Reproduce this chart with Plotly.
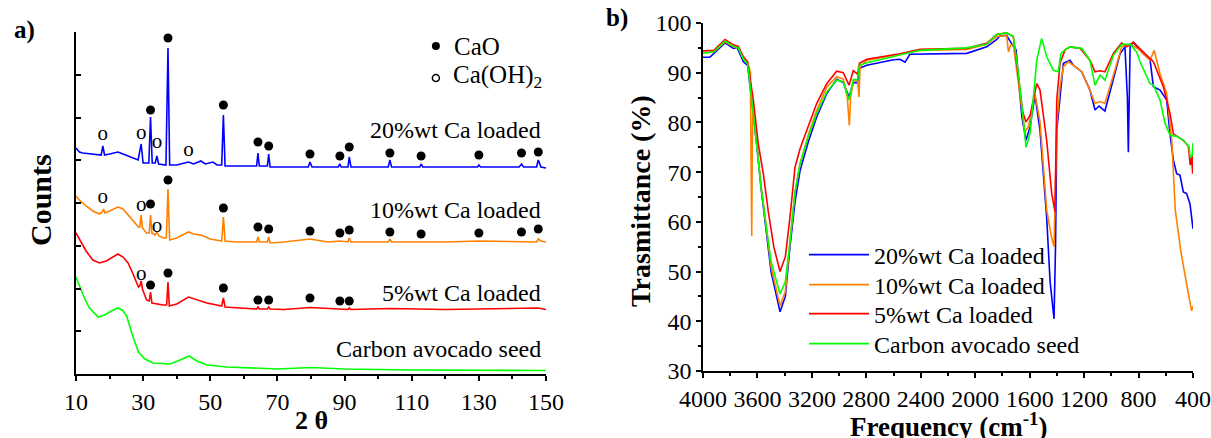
import plotly.graph_objects as go

# ---------------- XRD (panel a) : (2theta, counts a.u.) ----------------
xrd_20 = [(10,226),(11,222),(12,221),(14,220),(16,219),(17.5,219),(18.0,228),(18.5,219),(20,220),(22.5,222),
          (24,220),(26,217),(28.5,214),(29.4,230),(30.0,211),(31.7,211),(32.2,257),(32.7,211),(33.6,211),(34.1,218),
          (34.6,210),(36.8,209),(37.4,326),(37.9,209),(40,209),(43.5,212),(45,210),(47.2,213),(48.5,210),(50.8,212),
          (52,209),(53.4,209),(53.9,259),(54.4,208),(60,208),(63.8,208),(64.2,221),(64.6,208),(67.0,208),(67.4,220),
          (67.8,207),(72,207),(79.2,207),(79.7,212),(80.3,207),(88.1,207),(88.6,210),(89.0,207),(91.0,207),(91.4,217),
          (91.9,207),(103.0,207),(103.5,214),(104.0,207),(112.4,207),(112.8,210),(113.3,207),(129.6,207),(130,209),
          (130.5,207),(142,207),(142.7,210),(143.3,207),(147.2,207),(147.7,214),(148.5,207),(150,206)]
xrd_10 = [(10,178),(11,174),(13,168),(15,163),(17,160),(17.8,162),(18.2,165),(18.6,161),(20,163),(22.5,167),
          (24,165),(26,157),(28.6,147),(29.0,147),(29.4,159),(29.8,146),(31,141),(31.8,141),(32.2,159),(32.6,141),
          (33.5,139),(34.1,142),(34.7,138),(36,136),(36.9,136),(37.4,185),(37.9,134),(40,136),(43.5,142),(45,140),
          (47.2,139),(50,135),(53.4,133),(53.9,157),(54.4,133),(58,132),(63.8,132),(64.2,137),(64.6,132),(67.0,132),
          (67.4,137),(67.8,131),(72,132),(79.7,135),(85,132),(88.6,133),(91.0,132),(91.4,136),(91.9,132),(103.0,132),
          (103.5,135),(104.0,132),(120,132),(130,133),(140,132),(147.2,132),(147.7,135),(148.5,133),(150,132)]
xrd_5 = [(10,141),(11,135),(13,123),(15,114),(17,111),(19,113),(22.5,120),(24,117),(25.5,111),(27,100),
         (28.6,87),(29.0,88),(29.4,93),(29.8,85),(31,74),(31.8,73),(32.2,82),(32.6,71),(34,70),(36,69),
         (37.0,69),(37.4,92),(37.8,68),(40,70),(43.5,77),(46,74),(49,71),(53.4,68),(53.9,76),(54.4,67),
         (58,66),(63.8,65),(64.2,67),(64.6,65),(67.0,65),(67.4,67),(67.8,65),(72,64.5),(79.7,66.5),(86,65),
         (91.0,64.5),(91.4,66),(91.9,64.5),(103.5,65.5),(120,64.5),(147.7,66),(150,64.5)]
xrd_c = [(10,97),(11,88),(12.5,76),(14,66),(16.6,57),(18.5,59),(20.5,63),(22.5,66),(23.8,64),(25.1,58),
         (26.5,42),(28.6,22),(30.5,15),(33,11),(38,10),(41,14),(43.7,18),(46,13),(49,9),(55,7),
         (62,6),(70,5),(80,6.5),(90,5),(110,4),(130,3.5),(150,3.5)]

# peak markers: filled = CaO, open = Ca(OH)2
cao_pts = [(32.2,264),(37.4,336),(53.9,269),(64.2,232),(67.4,228),(79.7,220),(88.6,218),(91.4,227),(103.5,221),
           (112.8,218),(130,219),(142.7,221),(147.7,222),
           (32.2,170),(37.4,194),(53.9,166),(64.2,147),(67.4,145),(79.7,143),(88.6,141),(91.4,144),(103.5,142),
           (112.8,140),(130,141),(142.7,142),(147.7,145),
           (32.2,89),(37.4,101),(53.9,86),(64.2,74),(67.4,74),(79.7,76),(88.6,73),(91.4,73)]
caoh_pts = [(18,239),(29.4,240),(34.1,231),(43.5,223),
            (18,176),(29.4,168),(34.1,147),
            (29.4,99)]

xrd_labels = ["20%wt Ca loaded", "10%wt Ca loaded", "5%wt Ca loaded", "Carbon avocado seed"]
xrd_label_y = [244, 164, 81, 25]

# ---------------- FTIR (panel b) : (wavenumber, T %) ----------------
ftir_20 = [(4000,93.1),(3950,93.1),(3838,96),(3777,94.9),(3750,95.1),(3703,92.2),(3672,91.5),(3642,84.5),(3606,75.7),
           (3574,67),(3540,59),(3500,50),(3434,41.9),(3395,45),(3361,55),(3324,64),(3287,70.3),(3226,76.1),(3165,81.1),
           (3091,85.8),(3018,88.7),(2969,88),(2927,85.1),(2896,88),(2864,88),(2851,90.9),(2797,91.5),(2600,92.6),
           (2553,92.7),(2516,92.1),(2480,93.7),(2062,93.9),(1916,95.2),(1842,96.7),(1820,97.4),(1769,97.5),(1730,95.7),
           (1700,94.6),(1683,89.2),(1658,81.3),(1627,76.4),(1597,79.1),(1561,85.5),(1524,78.4),(1475,60.9),(1450,48),
           (1421,40.5),(1410,55),(1401,78.4),(1377,84.5),(1352,91.9),(1304,92.5),(1279,91.5),(1218,90.2),(1157,86.5),
           (1120,82.5),(1090,83.3),(1047,82.3),(985,88.5),(936,93.8),(900,95.2),(882,85),(875,74),(869,90),(862,95.2),
           (838,96.1),(765,93.8),(716,92.7),(691,87.2),(642,86.5),(593,84.5),(569,77.7),(544,72.4),(520,69.7),
           (496,69.4),(471,66),(447,65.7),(422,63.6),(405,60.3),(400,58.6)]
ftir_10 = [(4000,93.9),(3920,94.2),(3838,96.2),(3777,95.2),(3740,95),(3703,92.7),(3670,92),(3652,90),(3646,70),
           (3642,57.1),(3638,75),(3632,84),(3606,76),(3574,67.5),(3540,60),(3500,51),(3434,43.1),(3395,46),(3361,56),
           (3324,66),(3287,71.7),(3226,77.5),(3165,82.4),(3091,87.1),(3018,89.2),(2969,88.7),(2940,85.1),(2925,79.4),
           (2915,85.1),(2896,88.5),(2864,88.3),(2854,85.1),(2846,91.2),(2797,92.5),(2553,93.7),(2406,94.5),(2062,94.7),
           (1916,95.7),(1842,97.3),(1769,97.5),(1756,94.2),(1740,95.5),(1720,95.7),(1683,88.5),(1635,78.1),(1610,79.1),
           (1561,85.8),(1524,80.1),(1475,62.4),(1440,57),(1421,55),(1401,79.7),(1377,87.2),(1352,91.2),(1316,92.2),
           (1279,91.5),(1218,90.2),(1157,86.5),(1120,83.8),(1083,84.2),(1047,83.8),(985,89.5),(924,95.2),(860,95.8),
           (789,94.5),(716,92.5),(685,94.5),(642,89.8),(593,85.8),(556,76.4),(530,62.3),(520,60.3),(490,54.2),
           (447,47.5),(410,42.1),(400,43)]
ftir_5 = [(4000,94.4),(3920,94.5),(3838,96.7),(3777,95.6),(3740,95.3),(3703,93.2),(3672,92.2),(3630,84.5),(3594,75.7),
          (3557,69.7),(3520,62),(3480,55),(3434,50),(3395,53),(3361,60.9),(3324,71),(3287,74.7),(3226,79.1),(3165,83.8),
          (3091,87.8),(3018,90.3),(2969,90),(2927,87.5),(2896,90.4),(2864,89.7),(2851,91.9),(2797,92.7),(2553,93.8),
          (2406,94.7),(2062,94.9),(1916,95.9),(1842,97.7),(1769,98),(1720,97.3),(1683,89.2),(1650,82),(1627,80.1),
          (1597,81.4),(1548,87.8),(1524,86.5),(1475,76.4),(1438,65.7),(1414,62),(1401,84.5),(1377,91.9),(1340,94.6),
          (1304,95.2),(1230,94.9),(1157,92.5),(1120,90.2),(1083,90.4),(1047,90.2),(985,93.9),(924,96),(887,95.2),
          (838,96.1),(740,93.5),(691,92.2),(618,87.2),(569,81.8),(544,77.7),(471,76.4),(434,75.2),(420,71.4),
          (410,73),(402,69.7),(400,74.8)]
ftir_c = [(4000,93.9),(3920,94.2),(3838,96.4),(3777,95.3),(3740,95),(3703,92.7),(3672,91.8),(3640,84.5),(3606,75.7),
          (3574,67),(3540,60),(3500,52),(3434,45.5),(3395,48),(3361,56),(3324,66),(3287,71.7),(3226,77.1),(3165,81.8),
          (3091,86.1),(3018,88.5),(2969,88.2),(2927,84.5),(2896,88.6),(2864,88.6),(2851,91.5),(2797,92),(2553,93.5),
          (2406,94.5),(2062,95.0),(1916,95.7),(1842,97.7),(1769,98),(1720,97.3),(1683,89.9),(1646,80.4),(1627,75),
          (1597,77.7),(1573,84.5),(1548,92.5),(1512,96.9),(1475,93.2),(1426,90.5),(1390,90.2),(1370,93.9),(1340,94.6),
          (1304,95.2),(1218,94.9),(1157,92.5),(1120,87.5),(1083,89.5),(1047,88.5),(985,93.5),(924,95.7),(860,95.7),
          (813,94.1),(789,92.2),(716,87.8),(691,87.5),(642,84.5),(605,79.8),(569,77.4),(520,77.2),(471,76.4),
          (430,75.2),(420,73),(405,73.5),(400,75.9)]

names = ["20%wt Ca loaded", "10%wt Ca loaded", "5%wt Ca loaded", "Carbon avocado seed"]
colors = ["#0000FF", "#FF8000", "#FF0000", "#00FF00"]
legend_ids = ["legend", "legend2", "legend3", "legend4"]
legend_rows_px = [255, 285, 314, 344]

FONT = "Liberation Serif"
W, H = 1211, 438

def xs(p):
    return [a for a, _ in p]

def ys(p):
    return [b for _, b in p]

fig = go.Figure()

for data, c in zip([xrd_20, xrd_10, xrd_5, xrd_c], colors):
    fig.add_trace(go.Scatter(x=xs(data), y=ys(data), mode="lines", line=dict(color=c, width=1.6),
                             xaxis="x", yaxis="y", showlegend=False, hoverinfo="skip"))

fig.add_trace(go.Scatter(x=xs(cao_pts), y=ys(cao_pts), mode="markers",
                         marker=dict(color="black", size=9), xaxis="x", yaxis="y", showlegend=False))
fig.add_trace(go.Scatter(x=xs(caoh_pts), y=ys(caoh_pts), mode="text", text=["o"] * len(caoh_pts),
                         textfont=dict(family=FONT, size=21, color="black"), textposition="middle center",
                         xaxis="x", yaxis="y", showlegend=False))

# legend of panel a
fig.add_trace(go.Scatter(x=[117.2], y=[328], mode="markers", marker=dict(color="black", size=8),
                         xaxis="x", yaxis="y", showlegend=False))
fig.add_trace(go.Scatter(x=[117.2], y=[296], mode="markers",
                         marker=dict(color="white", size=7, line=dict(color="black", width=1.5)),
                         xaxis="x", yaxis="y", showlegend=False))

for data, c, n, lg in zip([ftir_20, ftir_10, ftir_5, ftir_c], colors, names, legend_ids):
    fig.add_trace(go.Scatter(x=xs(data), y=ys(data), mode="lines", name=n, line=dict(color=c, width=1.6),
                             xaxis="x2", yaxis="y2", legend=lg))

ann = []
for t, yv in zip(xrd_labels, xrd_label_y):
    ann.append(dict(x=149.1, y=yv, xref="x", yref="y", text=t, showarrow=False, xanchor="right",
                    yanchor="middle", font=dict(family=FONT, size=24, color="black")))
ann.append(dict(x=122, y=328, xref="x", yref="y", text="CaO", showarrow=False, xanchor="left",
                yanchor="middle", font=dict(family=FONT, size=25, color="black")))
ann.append(dict(x=121.7, y=298, xref="x", yref="y", text="Ca(OH)<sub>2</sub>", showarrow=False, xanchor="left",
                yanchor="middle", font=dict(family=FONT, size=25, color="black")))
ann.append(dict(x=12 / W, y=1 - 30 / H, xref="paper", yref="paper", text="<b>a)</b>", showarrow=False,
                xanchor="left", yanchor="middle", font=dict(family=FONT, size=25, color="black")))
ann.append(dict(x=604 / W, y=1 - 18 / H, xref="paper", yref="paper", text="<b>b)</b>", showarrow=False,
                xanchor="left", yanchor="middle", font=dict(family=FONT, size=25, color="black")))
ann.append(dict(x=40 / W, y=1 - 200 / H, xref="paper", yref="paper", text="<b>Counts</b>", showarrow=False,
                textangle=-90, xanchor="center", yanchor="middle", font=dict(family=FONT, size=30, color="black")))
ann.append(dict(x=311 / W, y=1 - 420 / H, xref="paper", yref="paper", text="<b>2 θ</b>", showarrow=False,
                xanchor="center", yanchor="middle", font=dict(family=FONT, size=26, color="black")))
ann.append(dict(x=640 / W, y=1 - 201 / H, xref="paper", yref="paper", text="<b>Trasmittance (%)</b>",
                showarrow=False, textangle=-90, xanchor="center", yanchor="middle",
                font=dict(family=FONT, size=28, color="black")))
ann.append(dict(x=948 / W, y=1 - 425 / H, xref="paper", yref="paper", text="<b>Frequency (cm<sup>-1</sup>)</b>",
                showarrow=False, xanchor="center", yanchor="middle", font=dict(family=FONT, size=27, color="black")))

axis_common = dict(showgrid=False, zeroline=False, showline=True, linecolor="black", linewidth=1.5,
                   tickcolor="black", tickwidth=1.5, automargin=False,
                   tickfont=dict(family=FONT, size=24, color="black"))

legends = {}
for lg, py in zip(legend_ids, legend_rows_px):
    legends[lg] = dict(x=804 / W, y=1 - py / H, xanchor="left", yanchor="middle", bgcolor="rgba(0,0,0,0)",
                       font=dict(family=FONT, size=24, color="black"), itemwidth=60, tracegroupgap=0)

fig.update_layout(
    width=W, height=H, margin=dict(l=0, r=0, t=0, b=0, autoexpand=False),
    paper_bgcolor="white", plot_bgcolor="white",
    xaxis=dict(domain=[76 / W, 546 / W], range=[10, 150], tickmode="linear", tick0=10, dtick=20,
               ticks="outside", ticklen=5, minor=dict(dtick=10, tick0=10, ticks="outside", ticklen=3,
                                                       tickcolor="black", tickwidth=1.5),
               anchor="y", **axis_common),
    yaxis=dict(domain=[(H - 374) / H, (H - 32) / H], range=[0, 342], tickmode="linear", tick0=0, dtick=42.75,
               ticks="inside", ticklen=5, showticklabels=False, anchor="x", **axis_common),
    xaxis2=dict(domain=[703 / W, 1193 / W], range=[4000, 400], tickmode="linear", tick0=400, dtick=400,
                ticks="outside", ticklen=5, minor=dict(dtick=200, ticks="outside", ticklen=3,
                                                       tickcolor="black", tickwidth=1.5),
                anchor="y2", **axis_common),
    yaxis2=dict(domain=[(H - 371) / H, (H - 23) / H], range=[30, 100], tickmode="linear", tick0=30, dtick=10,
                ticks="outside", ticklen=5, minor=dict(dtick=5, ticks="outside", ticklen=3,
                                                      tickcolor="black", tickwidth=1.5),
                anchor="x2", **axis_common),
    annotations=ann,
    **legends,
)

fig.write_html("out.html", config={"displayModeBar": False},
               post_script="document.body.style.margin='0';document.body.style.overflow='hidden';")
